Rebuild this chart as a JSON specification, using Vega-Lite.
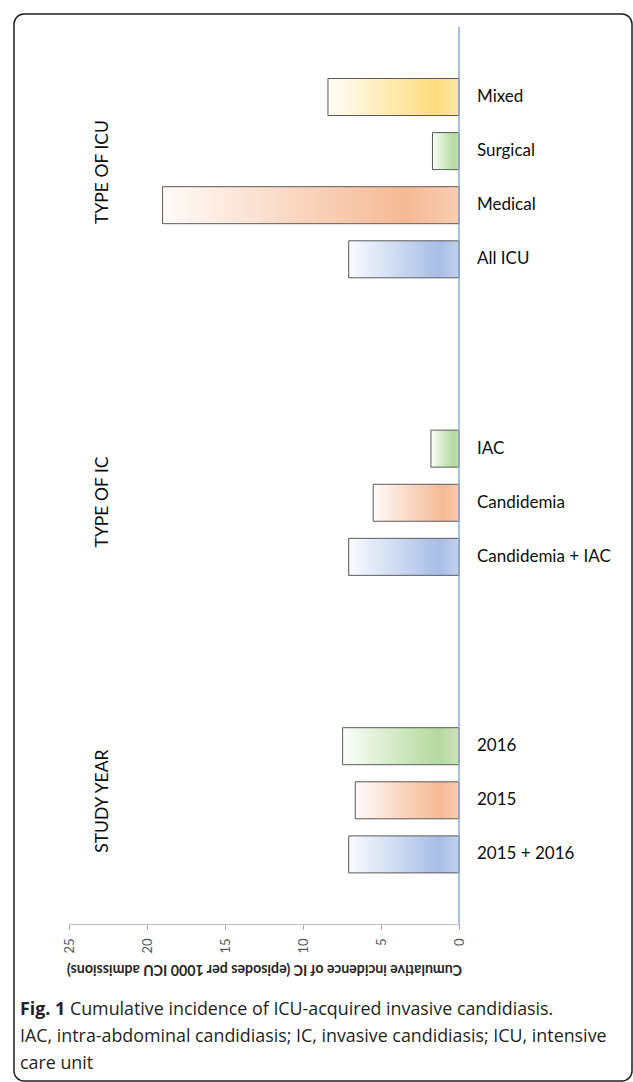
{
  "$schema": "https://vega.github.io/schema/vega-lite/v6.json",
  "width": 618,
  "height": 1067,
  "autosize": {"type": "none"},
  "padding": {"left": 14, "top": 14, "right": 1, "bottom": 1},
  "background": "white",
  "view": {"stroke": "#1f1f1f", "strokeWidth": 1.5, "cornerRadius": 10, "fill": "white"},
  "config": {"font": "Lato"},
  "data": {"values": [
    {"label": "Mixed", "group": "TYPE OF ICU", "value": 8.4},
    {"label": "Surgical", "group": "TYPE OF ICU", "value": 1.7},
    {"label": "Medical", "group": "TYPE OF ICU", "value": 19.0},
    {"label": "All ICU", "group": "TYPE OF ICU", "value": 7.07},
    {"label": "IAC", "group": "TYPE OF IC", "value": 1.8},
    {"label": "Candidemia", "group": "TYPE OF IC", "value": 5.5},
    {"label": "Candidemia + IAC", "group": "TYPE OF IC", "value": 7.07},
    {"label": "2016", "group": "STUDY YEAR", "value": 7.46},
    {"label": "2015", "group": "STUDY YEAR", "value": 6.65},
    {"label": "2015 + 2016", "group": "STUDY YEAR", "value": 7.07}
  ]},
  "layer": [
    {
      "mark": {"type": "bar", "height": 37, "strokeWidth": 0},
      "encoding": {
        "x": {"field": "value", "type": "quantitative",
          "scale": {"domain": [0, 25], "range": [445, 55], "nice": false, "zero": true},
          "axis": {"values": [0, 5, 10, 15, 20, 25], "title": "Cumulative incidence of IC (episodes per 1000 ICU admissions)",
            "offset": -157, "grid": false, "domainColor": "#bfbfbf", "domainWidth": 1, "tickColor": "#a6a6a6", "tickSize": 5,
            "labelAngle": 270, "labelAlign": "right", "labelBaseline": "middle", "labelPadding": 9, "labelFont": "Lato", "labelFontSize": 13,
            "labelColor": "#595959", "labelFlush": false, "labelOverlap": false,
            "titleAngle": 180, "titleFont": "Lato", "titleFontWeight": "bold", "titleFontSize": 14.2, "titleColor": "#262626",
            "titleX": 250, "titleY": 44, "titleAlign": "center", "titleBaseline": "middle"}},
        "y": {"field": "label", "type": "nominal", "sort": null,
          "scale": {"domain": ["Mixed", "_1", "Surgical", "_2", "Medical", "_3", "All ICU", "_4", "_5", "_6", "_7", "_8", "_9", "IAC", "_10", "Candidemia", "_11", "Candidemia + IAC", "_12", "_13", "_14", "_15", "_16", "_17", "2016", "_18", "2015", "_19", "2015 + 2016"],
            "range": [69.475, 853.925], "paddingInner": 0, "paddingOuter": 0},
          "axis": null},
        "color": {"field": "label", "type": "nominal",
          "scale": {"domain": ["Mixed", "Surgical", "Medical", "All ICU", "IAC", "Candidemia", "Candidemia + IAC", "2016", "2015", "2015 + 2016"],
            "range": ["#ffdc7e", "#b5d99e", "#f5b994", "#a7bee6", "#b5d99e", "#f5b994", "#a7bee6", "#b5d99e", "#f5b994", "#a7bee6"]},
          "legend": null}
      }
    },
    {
      "mark": {"type": "bar", "height": 37, "stroke": "#5b5b5b", "strokeWidth": 1,
        "fill": {"gradient": "linear", "x1": 0, "y1": 0, "x2": 1, "y2": 0,
          "stops": [
            {"offset": 0, "color": "rgba(255,255,255,0.95)"},
            {"offset": 0.4, "color": "rgba(255,255,255,0.48)"},
            {"offset": 0.82, "color": "rgba(255,255,255,0)"},
            {"offset": 1, "color": "rgba(255,255,255,0.3)"}
          ]}},
      "encoding": {
        "x": {"field": "value", "type": "quantitative"},
        "y": {"field": "label", "type": "nominal", "sort": null}
      }
    },
    {
      "mark": {"type": "text", "align": "left", "baseline": "middle", "font": "Lato", "fontSize": 17, "color": "#0d0d0d"},
      "encoding": {
        "x": {"datum": -1.154, "type": "quantitative"},
        "y": {"field": "label", "type": "nominal", "sort": null},
        "text": {"field": "label"}
      }
    },
    {
      "data": {"values": [{}]},
      "mark": {"type": "rule", "color": "#8eaadb", "strokeWidth": 1.5},
      "encoding": {
        "x": {"datum": 0, "type": "quantitative"},
        "y": {"datum": "Mixed", "type": "nominal", "bandPosition": -2.088},
        "y2": {"datum": "2015 + 2016", "bandPosition": 3.07}
      }
    },
    {
      "data": {"values": [{}]},
      "mark": {"type": "text", "text": "TYPE OF ICU", "angle": 270, "align": "center", "baseline": "middle", "font": "Lato", "fontSize": 17.5, "color": "#0d0d0d"},
      "encoding": {
        "x": {"datum": 22.82, "type": "quantitative"},
        "y": {"datum": "_2", "type": "nominal", "bandPosition": 0.273}
      }
    },
    {
      "data": {"values": [{}]},
      "mark": {"type": "text", "text": "TYPE OF IC", "angle": 270, "align": "center", "baseline": "middle", "font": "Lato", "fontSize": 17.5, "color": "#0d0d0d"},
      "encoding": {
        "x": {"datum": 22.82, "type": "quantitative"},
        "y": {"datum": "Candidemia", "type": "nominal", "bandPosition": 0.47}
      }
    },
    {
      "data": {"values": [{}]},
      "mark": {"type": "text", "text": "STUDY YEAR", "angle": 270, "align": "center", "baseline": "middle", "font": "Lato", "fontSize": 17.5, "color": "#0d0d0d"},
      "encoding": {
        "x": {"datum": 22.82, "type": "quantitative"},
        "y": {"datum": "2015", "type": "nominal", "bandPosition": 0.53}
      }
    },
    {
      "data": {"values": [{}]},
      "mark": {"type": "text", "text": "Fig. 1", "align": "left", "baseline": "middle", "font": "Open Sans", "fontWeight": "bold", "fontSize": 17.85, "color": "#231f20"},
      "encoding": {
        "x": {"datum": 28.14, "type": "quantitative"},
        "y": {"datum": "2015 + 2016", "type": "nominal", "bandPosition": 6.25}
      }
    },
    {
      "data": {"values": [{}]},
      "mark": {"type": "text", "text": "Cumulative incidence of ICU-acquired invasive candidiasis.", "align": "left", "baseline": "middle", "font": "Open Sans", "fontSize": 17.85, "color": "#231f20"},
      "encoding": {
        "x": {"datum": 24.94, "type": "quantitative"},
        "y": {"datum": "2015 + 2016", "type": "nominal", "bandPosition": 6.25}
      }
    },
    {
      "data": {"values": [{}]},
      "mark": {"type": "text", "text": "IAC, intra-abdominal candidiasis; IC, invasive candidiasis; ICU, intensive", "align": "left", "baseline": "middle", "font": "Open Sans", "fontSize": 17.85, "color": "#231f20"},
      "encoding": {
        "x": {"datum": 28.14, "type": "quantitative"},
        "y": {"datum": "2015 + 2016", "type": "nominal", "bandPosition": 7.25}
      }
    },
    {
      "data": {"values": [{}]},
      "mark": {"type": "text", "text": "care unit", "align": "left", "baseline": "middle", "font": "Open Sans", "fontSize": 17.85, "color": "#231f20"},
      "encoding": {
        "x": {"datum": 28.14, "type": "quantitative"},
        "y": {"datum": "2015 + 2016", "type": "nominal", "bandPosition": 8.25}
      }
    }
  ]
}
